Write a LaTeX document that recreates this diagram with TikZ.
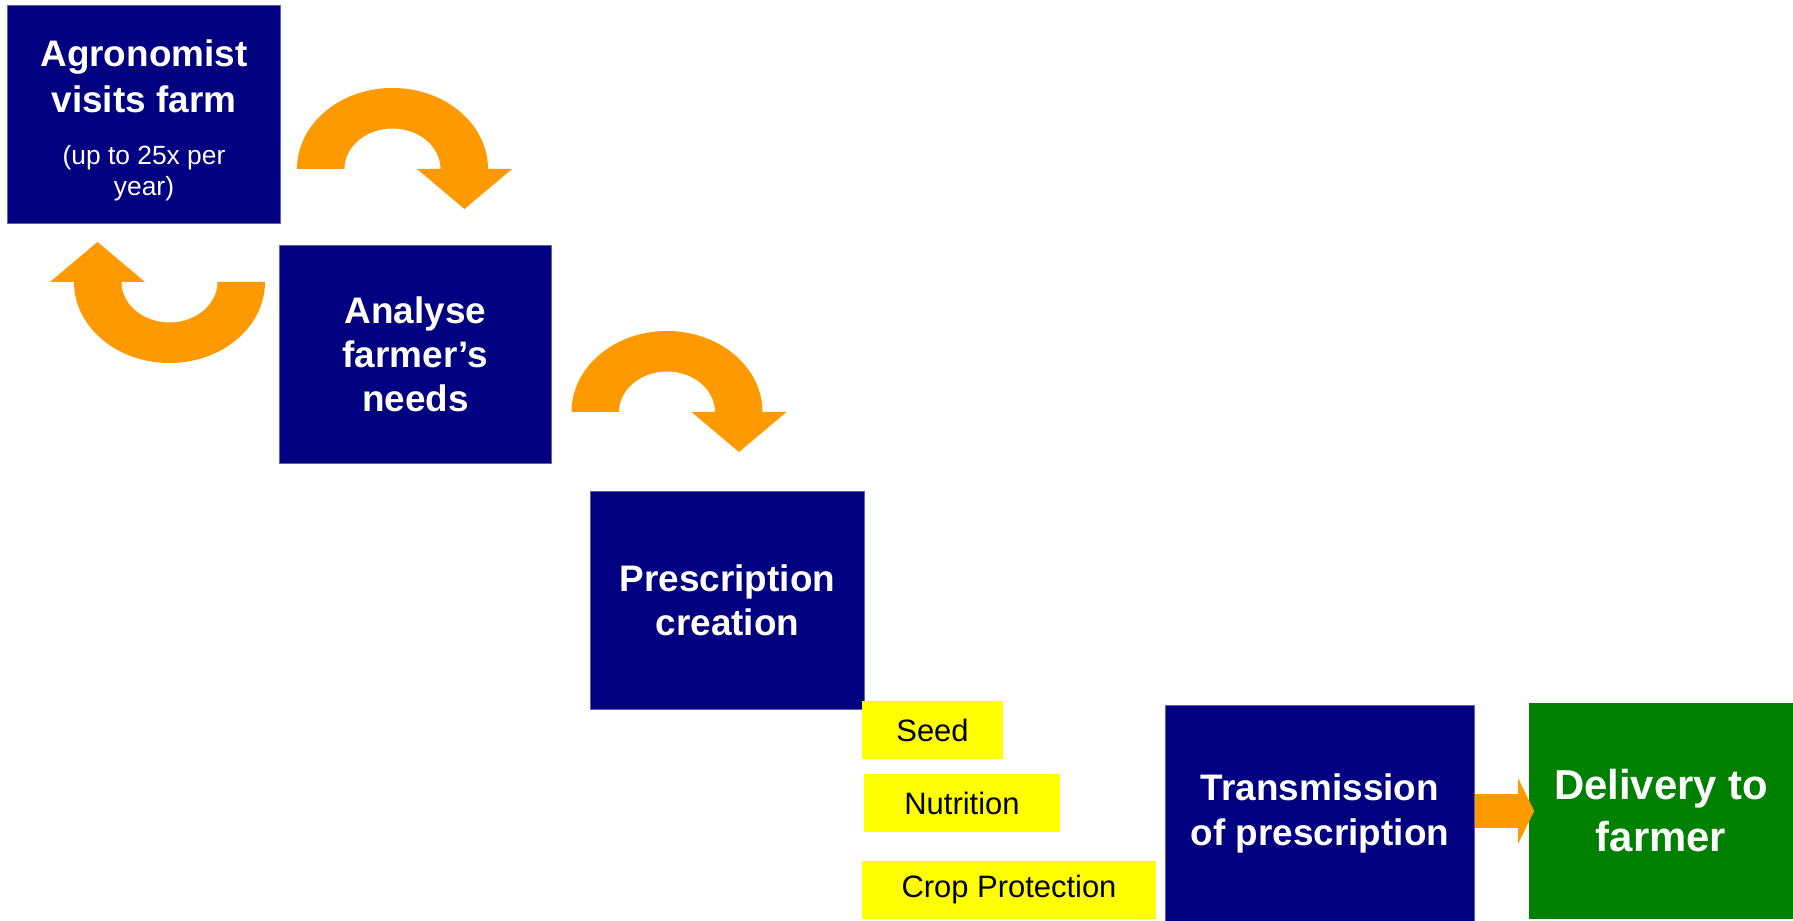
\documentclass[tikz,border=0pt]{standalone}
\usepackage{fontspec}
\setmainfont{Liberation Sans}
\usetikzlibrary{arrows.meta}

\definecolor{navy}{RGB}{0,0,128}
\definecolor{navyedge}{RGB}{96,96,176}
\definecolor{bendorange}{RGB}{255,153,0}
\definecolor{farmgreen}{RGB}{0,128,0}
\definecolor{tagyellow}{RGB}{255,255,0}
\newcommand{\notefont}{\mdseries\fontsize{7.5}{8.8}\selectfont}

\tikzset{
    navybox/.style={rectangle, fill=navy, draw=navyedge, line width=0.3pt, text=white,
        inner sep=0pt, align=center, font=\bfseries\fontsize{10.5}{12.6}\selectfont},
    greenbox/.style={rectangle, fill=farmgreen, text=white, inner sep=0pt, align=center,
        font=\bfseries\fontsize{11.9}{14.8}\selectfont},
    tagbox/.style={rectangle, fill=tagyellow, text=black, inner sep=0pt,
        minimum height=0.58cm, font=\fontsize{8.8}{10.5}\selectfont},
    pusharrow/.style={bendorange, line width=0.33cm, shorten >=-0.06cm,
        -{Triangle[length=0.16cm, width=0.65cm, line width=0pt]}},
    bendarrow/.pic={
        \fill[bendorange] (-95.5,0) arc[start angle=180, end angle=0, x radius=95.5, y radius=81]
            -- (119.5,0) -- (72,-40) -- (24.5,0) -- (48,0)
            arc[start angle=0, end angle=180, x radius=48, y radius=40.5] -- cycle;
    }
}

\begin{document}
\begin{tikzpicture}[x=0.01cm, y=0.01cm]
                \useasboundingbox (0,0) rectangle (1793,921);
                % Visit
                \node[navybox, minimum width=2.72cm, minimum height=2.17cm] (agro) at (144,806.5)
                    {\rule{0pt}{10.9pt}Agronomist\\[0.5pt]visits farm\\[2.2pt]\notefont (up to 25x per\\[-3.8pt]\notefont year)};
                \pic at (392.5,752) {bendarrow};
                \pic[rotate=180] at (169.5,639) {bendarrow};
                % Needs
                \node[navybox, minimum width=2.71cm, minimum height=2.17cm] (needs) at (415.5,566.5)
                    {Analyse\\farmer’s\\needs};
                \pic at (667,509) {bendarrow};
                % Prescription
                \node[navybox, minimum width=2.73cm, minimum height=2.17cm] (presc) at (727.5,320.5)
                    {Prescription\\creation};
                \node[tagbox, minimum width=1.41cm] (seed) at (932.5,191) {Seed};
                \node[tagbox, minimum width=1.96cm] (nutri) at (962,118) {Nutrition};
                \node[tagbox, minimum width=2.94cm] (crop) at (1009,31) {Crop Protection};
                % Transmission and delivery
                \node[navybox, minimum width=3.08cm, minimum height=2.15cm] (trans) at (1320,107.5)
                    {Transmission\\of prescription};
                \node[greenbox, minimum width=2.64cm, minimum height=2.16cm] (deliv) at (1661,110)
                    {Delivery to\\farmer};
                \draw[pusharrow] (trans.east |- deliv.west) -- (deliv.west);
            \end{tikzpicture}
\end{document}
